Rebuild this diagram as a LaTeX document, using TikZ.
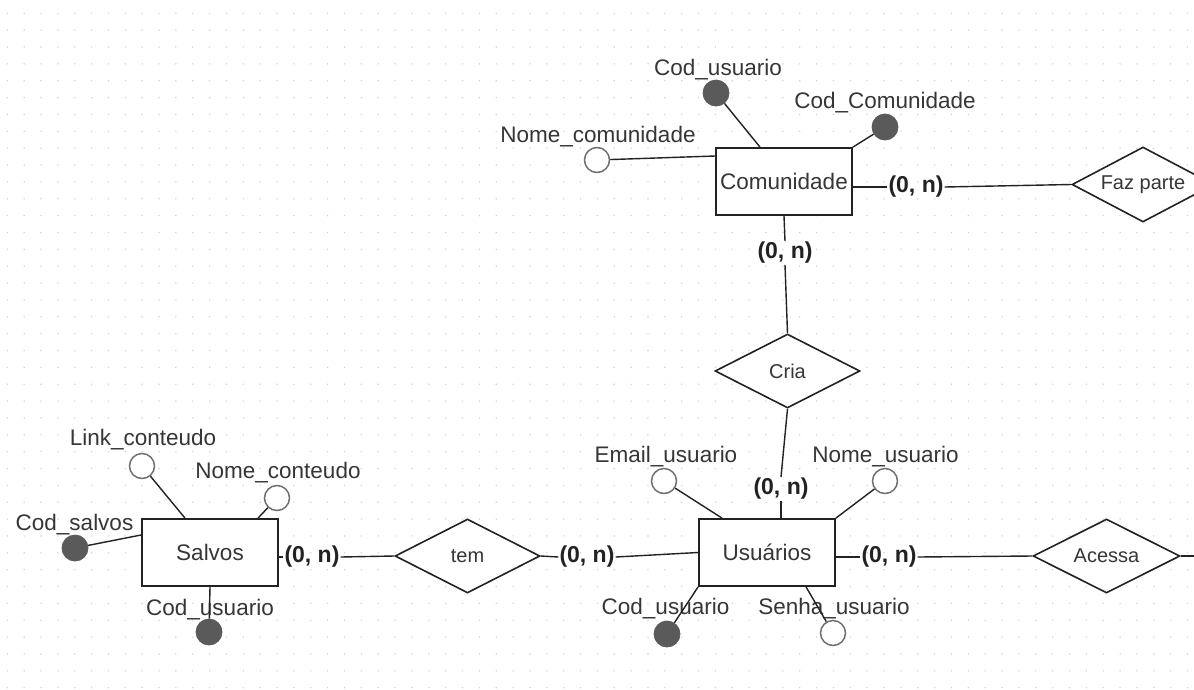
\documentclass[tikz,border=0pt]{standalone}
\usepackage{fontspec}
\setmainfont{Liberation Sans}
\usetikzlibrary{shapes.geometric,calc}

\definecolor{inkc}{HTML}{222222}
\definecolor{txtc}{HTML}{363636}
\definecolor{keyc}{HTML}{5A5A5A}
\definecolor{optc}{HTML}{707070}
\definecolor{gridc}{HTML}{D2D2D2}

\tikzset{
  entity/.style={draw=inkc, line width=1.8pt, fill=white, rectangle, inner sep=0pt,
    minimum width=136pt, minimum height=67pt, text=txtc,
    font=\fontsize{22.5}{26}\selectfont},
  relation/.style={draw=inkc, line width=1.6pt, fill=white, diamond, inner sep=0pt,
    aspect=1.95, text=txtc, font=\fontsize{20}{24}\selectfont},
  keyattr/.style={circle, fill=keyc, draw=keyc, line width=0.8pt, minimum size=26pt, inner sep=0pt},
  optattr/.style={circle, fill=white, draw=optc, line width=1.5pt, minimum size=25pt, inner sep=0pt},
  attrlabel/.style={text=txtc, inner sep=0pt, font=\fontsize{22.5}{26}\selectfont},
  card/.style={text=inkc, inner sep=1pt, font=\fontsize{23}{26}\selectfont\bfseries},
  link/.style={draw=inkc, line width=1.4pt},
}

\begin{document}
\begin{tikzpicture}[x=1pt, y=-1pt]
  \useasboundingbox (0,0) rectangle (1194,689);
  \clip (0,0) rectangle (1194,689);
  \fill[white] (0,0) rectangle (1194,689);

  % dotted background grid
  \foreach \i in {0,...,70}{
    \foreach \j in {0,...,40}{
      \fill[gridc] ({7.3+16.86*\i},{13.3+16.86*\j}) circle (0.8pt);
    }
  }

  % entities
  \node[entity] (com) at (784,181.5) {Comunidade};
  \node[entity] (usu) at (767,552.5) {Usuários};
  \node[entity] (sal) at (210,552.5) {Salvos};

  % relationships
  \node[relation, minimum width=142pt, minimum height=75pt] (faz) at (1143,184.5) {Faz parte};
  \node[relation, minimum width=145pt, minimum height=74pt] (cria) at (787.5,371) {Cria};
  \node[relation, minimum width=145pt, minimum height=74pt] (tem) at (467.5,556) {tem};
  \node[relation, minimum width=147pt, minimum height=74pt] (aces) at (1106.5,556) {Acessa};
  \coordinate (acesout) at (1194,556);

  % cardinalities
  \node[card] (c1) at (916,187) {(0, n)};
  \node[card] (c2) at (785,253) {(0, n)};
  \node[card] (c3) at (781,489) {(0, n)};
  \node[card] (c4) at (587,557) {(0, n)};
  \node[card] (c5) at (312,557) {(0, n)};
  \node[card] (c6) at (889,557) {(0, n)};

  % relationship lines
  \draw[link] (com.east |- c1.west) -- (c1.west);
  \draw[link] (c1.east) -- (faz.west);
  \draw[link] (com.south) -- (c2.north);
  \draw[link] (c2.south) -- (cria.north);
  \draw[link] (cria.south) -- (c3.north);
  \draw[link] (c3.south) -- (usu.north -| c3.south);
  \draw[link] (usu.west) -- (c4.east);
  \draw[link] (c4.west) -- (tem.east);
  \draw[link] (tem.west) -- (c5.east);
  \draw[link] (c5.west) -- (sal.east |- c5.west);
  \draw[link] (usu.east |- c6.west) -- (c6.west);
  \draw[link] (c6.east) -- (aces.west);
  \draw[link] (aces.east) -- (acesout);

  % attributes of Comunidade
  \node[keyattr] (cu1) at (716,93) {};
  \node[attrlabel] at (718,70) {Cod\_usuario};
  \node[keyattr] (ccom) at (885,127) {};
  \node[attrlabel] at (885,103) {Cod\_Comunidade};
  \node[optattr] (ncom) at (597,160) {};
  \node[attrlabel] at (598,137) {Nome\_comunidade};
  \draw[link] (cu1) -- ([xshift=-24pt]com.north);
  \draw[link] (ccom) -- (com.north east);
  \draw[link] (ncom) -- ([yshift=25.5pt]com.west);

  % attributes of Salvos
  \node[optattr] (lnk) at (142,466) {};
  \node[attrlabel] at (143,440) {Link\_conteudo};
  \node[optattr] (ncont) at (277,498) {};
  \node[attrlabel] at (278,473) {Nome\_conteudo};
  \node[keyattr] (csal) at (75,548) {};
  \node[attrlabel] at (74.5,525) {Cod\_salvos};
  \node[keyattr] (cu2) at (209,632) {};
  \node[attrlabel] at (210,610) {Cod\_usuario};
  \draw[link] (lnk) -- ([xshift=-25pt]sal.north);
  \draw[link] (ncont) -- ([xshift=48pt]sal.north);
  \draw[link] (csal) -- ([yshift=17.5pt]sal.west);
  \draw[link] (cu2) -- (sal.south);

  % attributes of Usuários
  \node[optattr] (mail) at (664,481) {};
  \node[attrlabel] at (666,457) {Email\_usuario};
  \node[optattr] (nusu) at (885,481) {};
  \node[attrlabel] at (885.5,457) {Nome\_usuario};
  \node[keyattr] (cu3) at (667,634) {};
  \node[attrlabel] at (665.5,609) {Cod\_usuario};
  \node[optattr] (senha) at (833,633) {};
  \node[attrlabel] at (834,609) {Senha\_usuario};
  \draw[link] (mail) -- ([xshift=-45pt]usu.north);
  \draw[link] (nusu) -- (usu.north east);
  \draw[link] (cu3) -- (usu.south west);
  \draw[link] (senha) -- ([xshift=39pt]usu.south);
\end{tikzpicture}
\end{document}
